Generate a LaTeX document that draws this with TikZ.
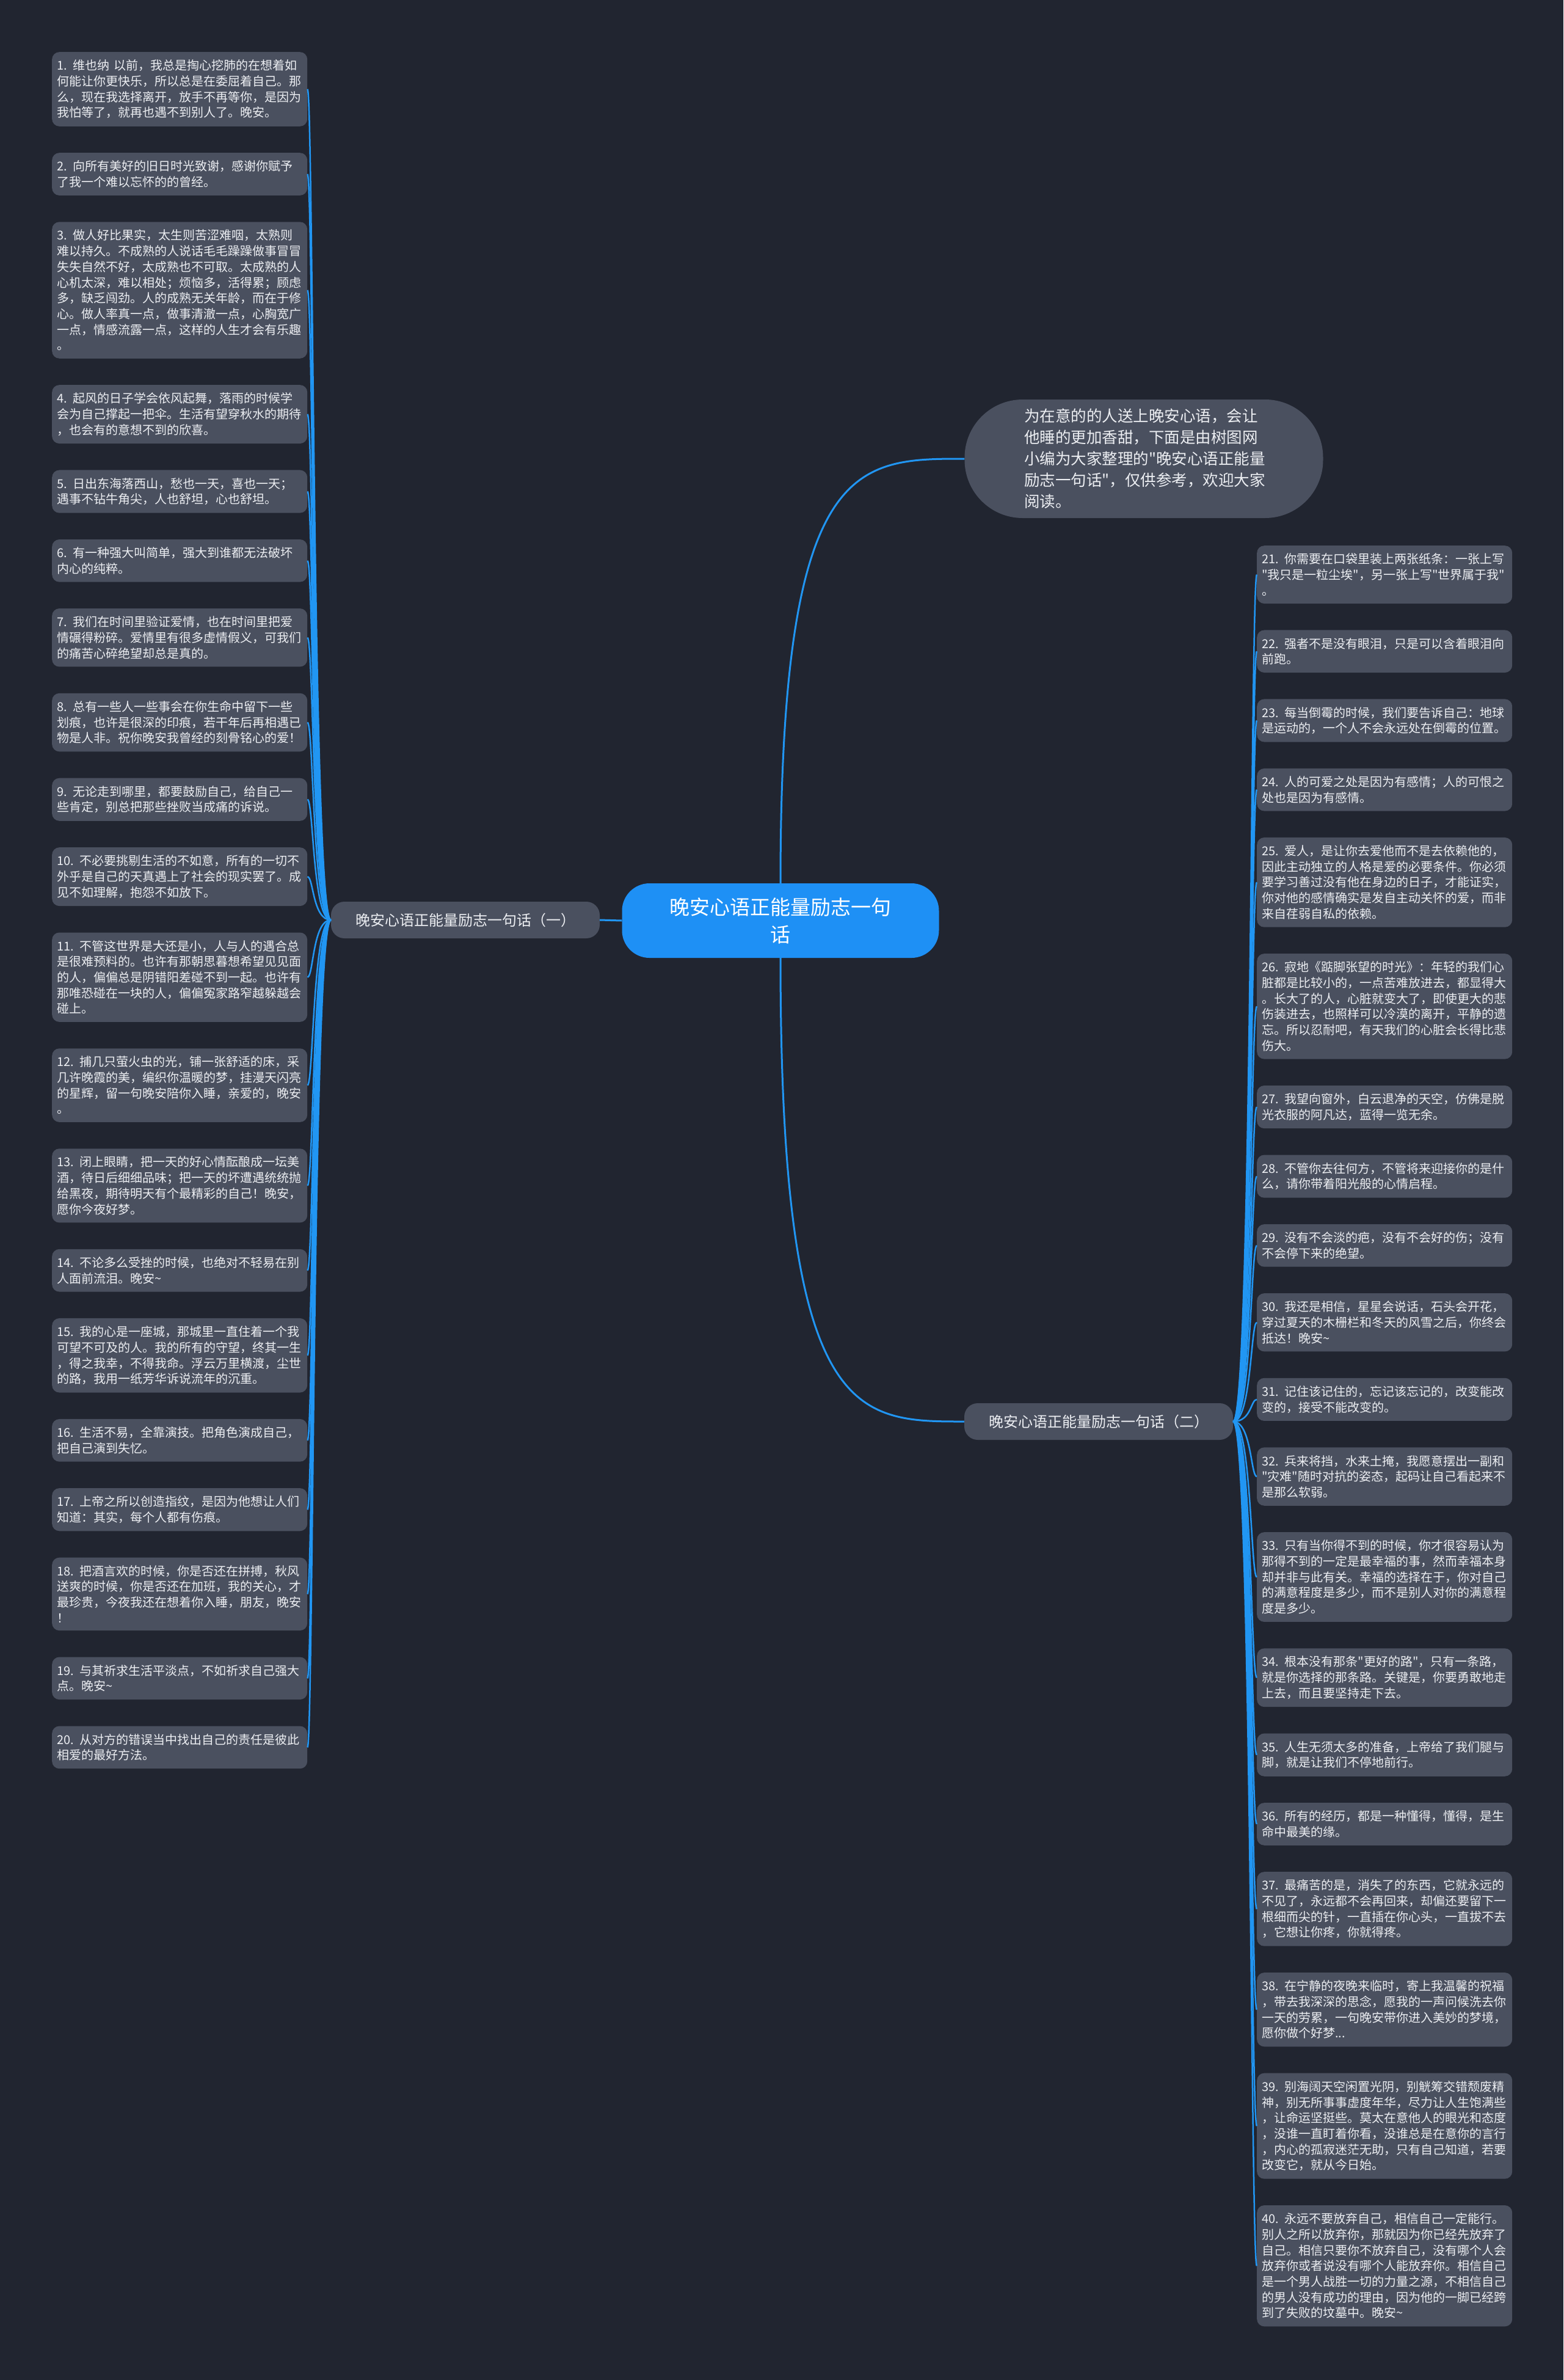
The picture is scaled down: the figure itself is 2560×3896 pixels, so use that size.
\documentclass[tikz,border=0pt]{standalone}
\usepackage{fontspec}
\newfontfamily\cjk{Noto Sans CJK SC}
\usepackage{tikz}
\usetikzlibrary{positioning}

\definecolor{bgnavy}{RGB}{33,37,48}
\definecolor{boxgray}{RGB}{74,80,95}
\definecolor{linkblue}{RGB}{33,150,243}
\definecolor{rootblue}{RGB}{30,144,245}
\definecolor{leaftext}{RGB}{236,238,242}
\newcommand\wave{\string~}

\tikzset{
  leaf/.style={fill=boxgray, rounded corners=12pt, text=leaftext, text width=402pt,
    inner xsep=8pt, inner ysep=12.7pt, align=left, font=\cjk\fontsize{20}{25.7}\selectfont},
  part/.style={fill=boxgray, rounded corners=22pt, text=leaftext, minimum width=440pt,
    minimum height=60pt, inner sep=0pt, font=\cjk\fontsize{24}{30}\selectfont},
  rootnode/.style={fill=rootblue, rounded corners=45pt, text=white, minimum width=519pt,
    minimum height=122pt, align=center, font=\cjk\fontsize{33}{45}\selectfont},
  intronode/.style={fill=boxgray, rounded corners=95pt, text=leaftext, minimum width=587pt,
    minimum height=194pt, text width=392pt, align=left, font=\cjk\fontsize{25.5}{35}\selectfont},
  mainlink/.style={draw=linkblue, line width=3pt},
  leaflink/.style={draw=linkblue, line width=2.5pt}
}

\begin{document}
\begin{tikzpicture}[x=1pt,y=-1pt]
  \useasboundingbox (0,0) rectangle (2560,3896);
  \fill[bgnavy] (0,0) rectangle (2560,3896);

  % centre and branches
  \node[rootnode] (root) at (1278,1507) {晚安心语正能量励志一句\\话};
  \node[intronode] (intro) at (1873,751) {为在意的的人送上晚安心语，会让\\他睡的更加香甜，下面是由树图网\\小编为大家整理的"晚安心语正能量\\励志一句话"，仅供参考，欢迎大家\\阅读。};
  \node[part] (part1) at (762,1506) {晚安心语正能量励志一句话（一）};
  \node[part] (part2) at (1799,2327) {晚安心语正能量励志一句话（二）};

  % left column
  \node[leaf, anchor=north west] (s1) at (85,85) {1. 维也纳 以前，我总是掏心挖肺的在想着如\\何能让你更快乐，所以总是在委屈着自己。那\\么，现在我选择离开，放手不再等你，是因为\\我怕等了，就再也遇不到别人了。晚安。};
  \node[leaf, below=43pt of s1] (s2) {2. 向所有美好的旧日时光致谢，感谢你赋予\\了我一个难以忘怀的的曾经。};
  \node[leaf, below=43pt of s2] (s3) {3. 做人好比果实，太生则苦涩难咽，太熟则\\难以持久。不成熟的人说话毛毛躁躁做事冒冒\\失失自然不好，太成熟也不可取。太成熟的人\\心机太深，难以相处；烦恼多，活得累；顾虑\\多，缺乏闯劲。人的成熟无关年龄，而在于修\\心。做人率真一点，做事清澈一点，心胸宽广\\一点，情感流露一点，这样的人生才会有乐趣\\。};
  \node[leaf, below=43pt of s3] (s4) {4. 起风的日子学会依风起舞，落雨的时候学\\会为自己撑起一把伞。生活有望穿秋水的期待\\，也会有的意想不到的欣喜。};
  \node[leaf, below=43pt of s4] (s5) {5. 日出东海落西山，愁也一天，喜也一天；\\遇事不钻牛角尖，人也舒坦，心也舒坦。};
  \node[leaf, below=43pt of s5] (s6) {6. 有一种强大叫简单，强大到谁都无法破坏\\内心的纯粹。};
  \node[leaf, below=43pt of s6] (s7) {7. 我们在时间里验证爱情，也在时间里把爱\\情碾得粉碎。爱情里有很多虚情假义，可我们\\的痛苦心碎绝望却总是真的。};
  \node[leaf, below=43pt of s7] (s8) {8. 总有一些人一些事会在你生命中留下一些\\划痕，也许是很深的印痕，若干年后再相遇已\\物是人非。祝你晚安我曾经的刻骨铭心的爱！};
  \node[leaf, below=43pt of s8] (s9) {9. 无论走到哪里，都要鼓励自己，给自己一\\些肯定，别总把那些挫败当成痛的诉说。};
  \node[leaf, below=43pt of s9] (s10) {10. 不必要挑剔生活的不如意，所有的一切不\\外乎是自己的天真遇上了社会的现实罢了。成\\见不如理解，抱怨不如放下。};
  \node[leaf, below=43pt of s10] (s11) {11. 不管这世界是大还是小，人与人的遇合总\\是很难预料的。也许有那朝思暮想希望见见面\\的人，偏偏总是阴错阳差碰不到一起。也许有\\那唯恐碰在一块的人，偏偏冤家路窄越躲越会\\碰上。};
  \node[leaf, below=43pt of s11] (s12) {12. 捕几只萤火虫的光，铺一张舒适的床，采\\几许晚霞的美，编织你温暖的梦，挂漫天闪亮\\的星辉，留一句晚安陪你入睡，亲爱的，晚安\\。};
  \node[leaf, below=43pt of s12] (s13) {13. 闭上眼睛，把一天的好心情酝酿成一坛美\\酒，待日后细细品味；把一天的坏遭遇统统抛\\给黑夜，期待明天有个最精彩的自己！晚安，\\愿你今夜好梦。};
  \node[leaf, below=43pt of s13] (s14) {14. 不论多么受挫的时候，也绝对不轻易在别\\人面前流泪。晚安\wave};
  \node[leaf, below=43pt of s14] (s15) {15. 我的心是一座城，那城里一直住着一个我\\可望不可及的人。我的所有的守望，终其一生\\，得之我幸，不得我命。浮云万里横渡，尘世\\的路，我用一纸芳华诉说流年的沉重。};
  \node[leaf, below=43pt of s15] (s16) {16. 生活不易，全靠演技。把角色演成自己，\\把自己演到失忆。};
  \node[leaf, below=43pt of s16] (s17) {17. 上帝之所以创造指纹，是因为他想让人们\\知道：其实，每个人都有伤痕。};
  \node[leaf, below=43pt of s17] (s18) {18. 把酒言欢的时候，你是否还在拼搏，秋风\\送爽的时候，你是否还在加班，我的关心，才\\最珍贵，今夜我还在想着你入睡，朋友，晚安\\！};
  \node[leaf, below=43pt of s18] (s19) {19. 与其祈求生活平淡点，不如祈求自己强大\\点。晚安\wave};
  \node[leaf, below=43pt of s19] (s20) {20. 从对方的错误当中找出自己的责任是彼此\\相爱的最好方法。};

  % right column
  \node[leaf, anchor=north west] (s21) at (2058,893) {21. 你需要在口袋里装上两张纸条：一张上写\\"我只是一粒尘埃"，另一张上写"世界属于我"\\。};
  \node[leaf, below=43pt of s21] (s22) {22. 强者不是没有眼泪，只是可以含着眼泪向\\前跑。};
  \node[leaf, below=43pt of s22] (s23) {23. 每当倒霉的时候，我们要告诉自己：地球\\是运动的，一个人不会永远处在倒霉的位置。};
  \node[leaf, below=43pt of s23] (s24) {24. 人的可爱之处是因为有感情；人的可恨之\\处也是因为有感情。};
  \node[leaf, below=43pt of s24] (s25) {25. 爱人，是让你去爱他而不是去依赖他的，\\因此主动独立的人格是爱的必要条件。你必须\\要学习善过没有他在身边的日子，才能证实，\\你对他的感情确实是发自主动关怀的爱，而非\\来自荏弱自私的依赖。};
  \node[leaf, below=43pt of s25] (s26) {26. 寂地《踮脚张望的时光》：年轻的我们心\\脏都是比较小的，一点苦难放进去，都显得大\\。长大了的人，心脏就变大了，即使更大的悲\\伤装进去，也照样可以冷漠的离开，平静的遗\\忘。所以忍耐吧，有天我们的心脏会长得比悲\\伤大。};
  \node[leaf, below=43pt of s26] (s27) {27. 我望向窗外，白云退净的天空，仿佛是脱\\光衣服的阿凡达，蓝得一览无余。};
  \node[leaf, below=43pt of s27] (s28) {28. 不管你去往何方，不管将来迎接你的是什\\么，请你带着阳光般的心情启程。};
  \node[leaf, below=43pt of s28] (s29) {29. 没有不会淡的疤，没有不会好的伤；没有\\不会停下来的绝望。};
  \node[leaf, below=43pt of s29] (s30) {30. 我还是相信，星星会说话，石头会开花，\\穿过夏天的木栅栏和冬天的风雪之后，你终会\\抵达！晚安\wave};
  \node[leaf, below=43pt of s30] (s31) {31. 记住该记住的，忘记该忘记的，改变能改\\变的，接受不能改变的。};
  \node[leaf, below=43pt of s31] (s32) {32. 兵来将挡，水来土掩，我愿意摆出一副和\\"灾难"随时对抗的姿态，起码让自己看起来不\\是那么软弱。};
  \node[leaf, below=43pt of s32] (s33) {33. 只有当你得不到的时候，你才很容易认为\\那得不到的一定是最幸福的事，然而幸福本身\\却并非与此有关。幸福的选择在于，你对自己\\的满意程度是多少，而不是别人对你的满意程\\度是多少。};
  \node[leaf, below=43pt of s33] (s34) {34. 根本没有那条"更好的路"，只有一条路，\\就是你选择的那条路。关键是，你要勇敢地走\\上去，而且要坚持走下去。};
  \node[leaf, below=43pt of s34] (s35) {35. 人生无须太多的准备，上帝给了我们腿与\\脚，就是让我们不停地前行。};
  \node[leaf, below=43pt of s35] (s36) {36. 所有的经历，都是一种懂得，懂得，是生\\命中最美的缘。};
  \node[leaf, below=43pt of s36] (s37) {37. 最痛苦的是，消失了的东西，它就永远的\\不见了，永远都不会再回来，却偏还要留下一\\根细而尖的针，一直插在你心头，一直拔不去\\，它想让你疼，你就得疼。};
  \node[leaf, below=43pt of s37] (s38) {38. 在宁静的夜晚来临时，寄上我温馨的祝福\\，带去我深深的思念，愿我的一声问候洗去你\\一天的劳累，一句晚安带你进入美妙的梦境，\\愿你做个好梦...};
  \node[leaf, below=43pt of s38] (s39) {39. 别海阔天空闲置光阴，别觥筹交错颓废精\\神，别无所事事虚度年华，尽力让人生饱满些\\，让命运坚挺些。莫太在意他人的眼光和态度\\，没谁一直盯着你看，没谁总是在意你的言行\\，内心的孤寂迷茫无助，只有自己知道，若要\\改变它，就从今日始。};
  \node[leaf, below=43pt of s39] (s40) {40. 永远不要放弃自己，相信自己一定能行。\\别人之所以放弃你，那就因为你已经先放弃了\\自己。相信只要你不放弃自己，没有哪个人会\\放弃你或者说没有哪个人能放弃你。相信自己\\是一个男人战胜一切的力量之源，不相信自己\\的男人没有成功的理由，因为他的一脚已经跨\\到了失败的坟墓中。晚安\wave};

  % connectors
  \draw[mainlink] (root.north) .. controls (1278,751) and (1400,751) .. (intro.west);
  \draw[mainlink] (root.south) .. controls (1278,2327) and (1400,2327) .. (part2.west);
  \draw[mainlink] (root.west) -- (part1.east);
  \foreach \i in {1,...,20}
    \draw[leaflink] (part1.west) .. controls +(-30,0) and +(10,0) .. (s\i.east);
  \foreach \i in {21,...,40}
    \draw[leaflink] (part2.east) .. controls +(30,0) and +(-10,0) .. (s\i.west);
\end{tikzpicture}
\end{document}
